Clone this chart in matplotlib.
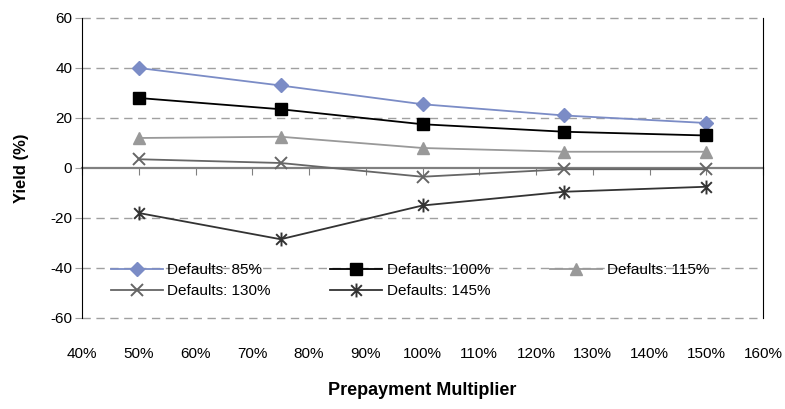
import numpy as np
import matplotlib.pyplot as plt
from matplotlib.path import Path

plt.rcParams['font.family'] = ['Liberation Sans Narrow', 'Liberation Sans', 'DejaVu Sans']

# prepayment multiplier (%) and yield (%) per default scenario
prepay = [50, 75, 100, 125, 150]
series_names = ['Defaults: 85%', 'Defaults: 100%', 'Defaults: 115%',
                'Defaults: 130%', 'Defaults: 145%']
yield_85 = [40.0, 33.0, 25.5, 21.0, 18.0]
yield_100 = [28.0, 23.5, 17.5, 14.5, 13.0]
yield_115 = [12.0, 12.5, 8.0, 6.5, 6.5]
yield_130 = [3.5, 2.0, -3.5, -0.5, -0.5]
yield_145 = [-18.0, -28.5, -15.0, -9.5, -7.5]

x_ticks = np.arange(40, 161, 10)
y_ticks = np.arange(-60, 61, 20)

# Excel-style asterisk: an "x" with a vertical bar through it
asterisk = Path([(-1, -1), (1, 1), (-1, 1), (1, -1), (0, -1.3), (0, 1.3)],
                [Path.MOVETO, Path.LINETO, Path.MOVETO, Path.LINETO,
                 Path.MOVETO, Path.LINETO])

styles = [
    dict(color='#7b8cc6', marker='D', ms=7, mec='#7b8cc6'),
    dict(color='#000000', marker='s', ms=8, mec='#000000'),
    dict(color='#999999', marker='^', ms=9, mec='#999999'),
    dict(color='#666666', marker='x', ms=9, mew=1.4),
    dict(color='#333333', marker=asterisk, ms=10, mew=1.4),
]

fig = plt.figure(figsize=(7.85, 4.09), dpi=100)
ax = fig.add_axes([0.1045, 0.2225, 0.8675, 0.7335])

lines = []
for vals, name, st in zip([yield_85, yield_100, yield_115, yield_130, yield_145],
                          series_names, styles):
    ln, = ax.plot(prepay, vals, lw=1.3, label=name, zorder=3, **st)
    lines.append(ln)

ax.set_xlim(40, 160)
ax.set_ylim(-60, 60)
ax.set_yticks(y_ticks)
ax.set_xticks(x_ticks)

# dashed horizontal gridlines, solid zero line
for y in y_ticks:
    if y != 0:
        ax.axhline(y, color='#a0a0a0', lw=1.0, ls=(0, (6, 4)), zorder=1,
                   clip_on=False)

ax.spines['top'].set_visible(False)
ax.spines['left'].set_color('black')
ax.spines['right'].set_color('black')
ax.spines['bottom'].set_position(('data', 0))
ax.spines['bottom'].set_color('#808080')
ax.spines['bottom'].set_linewidth(1.6)
ax.spines['bottom'].set_zorder(2)
ax.tick_params(axis='x', direction='out', length=5, color='#808080',
               labelbottom=False)
ax.tick_params(axis='y', direction='out', length=5, color='#a0a0a0',
               pad=2, labelsize=11)
ax.set_yticklabels([f'{v:d}' for v in y_ticks])

# x tick labels sit below the plot, not at the zero line
sec = ax.secondary_xaxis('bottom')
sec.set_xticks(x_ticks)
sec.set_xticklabels([f'{v}%' for v in x_ticks])
sec.tick_params(length=0, pad=21, labelsize=11)
sec.spines['bottom'].set_visible(False)

ax.set_ylabel('Yield (%)', fontsize=12, fontweight='bold', labelpad=15)
sec.set_xlabel('Prepayment Multiplier', fontsize=13, fontweight='bold',
               labelpad=15)

# legend filled row by row: 85/100/115 on top, 130/145 below
order = [0, 3, 1, 4, 2]
ax.legend([lines[i] for i in order], [series_names[i] for i in order],
          loc='lower left', bbox_to_anchor=(0.022, 0.02), ncol=3,
          frameon=False, fontsize=11, handlelength=3.4, columnspacing=3.9,
          labelspacing=0.45, handletextpad=0.3)

fig.savefig('out.png', dpi=100)
